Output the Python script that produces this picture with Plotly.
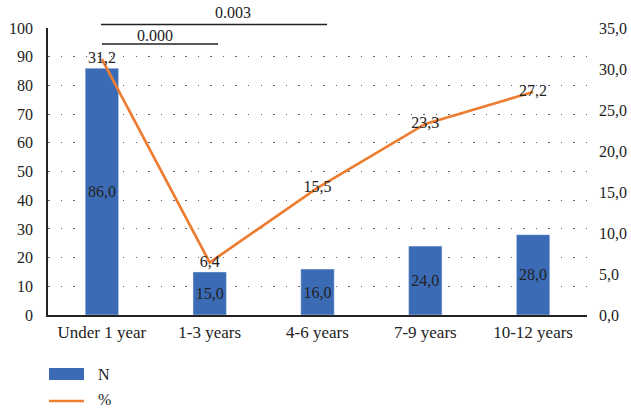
import plotly.graph_objects as go

categories = ["Under 1 year", "1-3 years", "4-6 years", "7-9 years", "10-12 years"]
n_values = [86.0, 15.0, 16.0, 24.0, 28.0]
pct_values = [31.2, 6.4, 15.5, 23.3, 27.2]
p_labels = ["0.000", "0.003"]

FONT = "Liberation Serif"
BLUE = "#3B6BB5"
ORANGE = "#ED7D31"

fig = go.Figure()
fig.add_trace(go.Bar(
    x=categories, y=n_values, name="N", marker_color=BLUE, width=0.31,
    texttemplate="%{y:.1f}", textposition="inside", insidetextanchor="middle",
    textangle=0, constraintext="none",
    textfont=dict(family=FONT, size=16, color="#222"), showlegend=False,
))
fig.add_trace(go.Scatter(
    x=categories, y=pct_values, name="%", yaxis="y2", mode="lines+text",
    line=dict(color=ORANGE, width=2.7),
    texttemplate="%{y:.1f}", textposition="middle center",
    textfont=dict(family=FONT, size=16, color="#222"), showlegend=False,
))

W, H = 631, 409
L, R, T, B = 48, 44, 28, 94
pw, ph = W - L - R, H - T - B

def px(x):
    return (x - L) / pw

def py(y):
    return (H - B - y) / ph

shapes = [
    dict(type="line", xref="paper", yref="paper", x0=px(102), x1=px(218), y0=py(44), y1=py(44),
         line=dict(color="#222", width=1.5)),
    dict(type="line", xref="paper", yref="paper", x0=px(101), x1=px(327), y0=py(24.5), y1=py(24.5),
         line=dict(color="#222", width=1.5)),
    # legend symbols
    dict(type="rect", xref="paper", yref="paper", x0=px(49), x1=px(84), y0=py(380), y1=py(368),
         fillcolor=BLUE, line=dict(width=0)),
    dict(type="line", xref="paper", yref="paper", x0=px(49), x1=px(84), y0=py(401), y1=py(401),
         line=dict(color=ORANGE, width=2.7)),
]
ann_font = dict(family=FONT, size=16, color="#222")
annotations = [
    dict(xref="paper", yref="paper", x=px(155), y=py(35), text=p_labels[0], showarrow=False,
         xanchor="center", yanchor="middle", font=ann_font),
    dict(xref="paper", yref="paper", x=px(233), y=py(13), text=p_labels[1], showarrow=False,
         xanchor="center", yanchor="middle", font=ann_font),
    dict(xref="paper", yref="paper", x=px(96), y=py(374), text="N", showarrow=False,
         xanchor="left", yanchor="middle", font=ann_font),
    dict(xref="paper", yref="paper", x=px(96), y=py(399), text="%", showarrow=False,
         xanchor="left", yanchor="middle", font=ann_font),
]

fig.update_layout(
    width=W, height=H, margin=dict(l=L, r=R, t=T, b=B, pad=0, autoexpand=False),
    paper_bgcolor="white", plot_bgcolor="white",
    font=dict(family=FONT, size=16, color="#222"),
    separators=", ",
    showlegend=False,
    bargap=0.69,
    xaxis=dict(showline=True, linecolor="#222", linewidth=1.5, showgrid=False, ticks="",
               automargin=False,
               ticklabelstandoff=1, tickfont=dict(family=FONT, size=17, color="#222")),
    yaxis=dict(range=[0, 100], dtick=10, showline=True, linecolor="#222", linewidth=1.5,
               showgrid=True, gridcolor="#666", gridwidth=1.3, griddash="1.5px,11px",
               automargin=False,
               zeroline=False, ticks="", ticklabelstandoff=10),
    yaxis2=dict(range=[0, 35], dtick=5, tickformat=".1f", overlaying="y", side="right",
                automargin=False,
                showgrid=False, showline=False, zeroline=False, ticks="", ticklabelstandoff=11),
    shapes=shapes, annotations=annotations,
)

fig.write_html("out.html")
